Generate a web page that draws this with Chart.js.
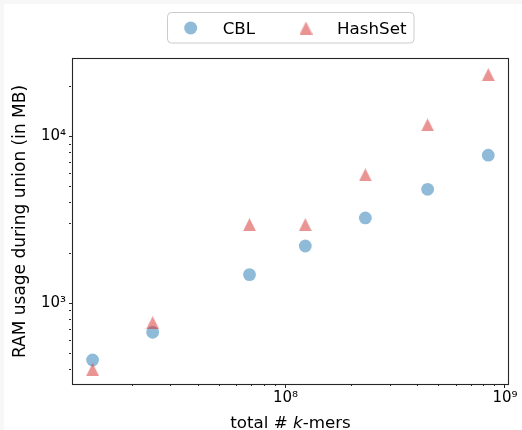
<!DOCTYPE html>
<html><head><meta charset="utf-8">
<script src="https://cdn.jsdelivr.net/npm/chart.js@4/dist/chart.umd.min.js"></script>
<style>
html,body{margin:0;padding:0;background:#fff;}
#wrap{width:522px;height:430px;position:relative;}
canvas{display:block;}
</style></head><body>
<div id="wrap"><canvas id="c" width="522" height="430"></canvas></div>
<script>
// ---- data ----
const seriesNames = ['CBL', 'HashSet'];
const totalKmers = [1.32e7, 2.48e7, 6.85e7, 1.23e8, 2.31e8, 4.44e8, 8.39e8];
const cblRam = [457, 670, 1486, 2207, 3251, 4829, 7733];
const hashSetRam = [400, 765, 2963, 2963, 5890, 11750, 23550];
const xMajorTicks = [1e8, 1e9];
const xTickLabels = ['10⁸', '10⁹'];
const yMajorTicks = [1e3, 1e4];
const yTickLabels = ['10³', '10⁴'];
const xRange = [1.075e7, 1.032e9];
const yRange = [328, 29200];
const xTitleParts = ['total # ', 'k', '-mers'];
const yTitle = 'RAM usage during union (in MB)';

const FONT = '"DejaVu Sans", "Liberation Sans", sans-serif';
const BLUE = 'rgba(31,119,180,0.5)';
const RED = 'rgba(214,39,40,0.5)';

function makeTriangle(size, color) {
  const c = document.createElement('canvas');
  c.width = size; c.height = size;
  const g = c.getContext('2d');
  g.fillStyle = color;
  g.beginPath();
  g.moveTo(size / 2, 0);
  g.lineTo(size, size);
  g.lineTo(0, size);
  g.closePath();
  g.fill();
  return c;
}
const triImg = makeTriangle(13, RED);

function logTicks(min, max) {
  const out = [];
  const e0 = Math.floor(Math.log10(min)), e1 = Math.ceil(Math.log10(max));
  for (let e = e0; e <= e1; e++) {
    for (let k = 1; k <= 9; k++) {
      const v = k * Math.pow(10, e);
      if (v >= min && v <= max) out.push({ value: v, major: k === 1 });
    }
  }
  return out;
}
function labelFor(v, majors, labels) {
  const i = majors.indexOf(v);
  return i >= 0 ? labels[i] : '';
}
const tickDash = ctx => (ctx.tick && ctx.tick.major) ? [] : [2, 20];

const bgPlugin = {
  id: 'bg',
  beforeDraw(chart) {
    const ctx = chart.ctx;
    ctx.save();
    ctx.fillStyle = '#f7f7f7';
    ctx.fillRect(0, 0, chart.width, chart.height);
    ctx.fillStyle = '#ffffff';
    ctx.fillRect(4, 4, chart.width - 4, chart.height - 4);
    ctx.restore();
  }
};

const framePlugin = {
  id: 'frame',
  afterDraw(chart) {
    const ctx = chart.ctx, a = chart.chartArea;
    ctx.save();
    ctx.strokeStyle = '#262626';
    ctx.lineWidth = 1.1;
    ctx.strokeRect(a.left - 0.5, a.top - 0.5, a.right - a.left + 1, a.bottom - a.top + 1);

    // x axis title with italic k
    const y = 428;
    const fN = '16.7px ' + FONT, fI = 'italic 16.7px ' + FONT;
    ctx.fillStyle = '#000';
    ctx.textBaseline = 'alphabetic';
    ctx.textAlign = 'left';
    const fonts = [fN, fI, fN];
    let widths = xTitleParts.map((t, i) => { ctx.font = fonts[i]; return ctx.measureText(t).width; });
    let x = (a.left + a.right) / 2 - widths.reduce((s, w) => s + w, 0) / 2;
    xTitleParts.forEach((t, i) => { ctx.font = fonts[i]; ctx.fillText(t, x, y); x += widths[i]; });

    // legend
    const lx = 167.5, ly = 12.5, lw = 246.5, lh = 30.5;
    ctx.beginPath();
    ctx.roundRect(lx, ly, lw, lh, 4);
    ctx.fillStyle = 'rgba(255,255,255,0.8)';
    ctx.fill();
    ctx.strokeStyle = '#cccccc';
    ctx.lineWidth = 1;
    ctx.stroke();
    ctx.fillStyle = BLUE;
    ctx.beginPath();
    ctx.arc(190.7, 28, 6.5, 0, Math.PI * 2);
    ctx.fill();
    ctx.drawImage(triImg, 306 - 6.5, 28 - 6.5);
    ctx.fillStyle = '#000';
    ctx.font = '16.7px ' + FONT;
    ctx.fillText(seriesNames[0], 222.7, 33.5);
    ctx.fillText(seriesNames[1], 337, 33.5);
    ctx.restore();
  }
};

new Chart(document.getElementById('c'), {
  type: 'scatter',
  data: {
    datasets: [
      {
        label: seriesNames[0],
        data: totalKmers.map((x, i) => ({ x, y: cblRam[i] })),
        backgroundColor: BLUE,
        borderWidth: 0,
        pointStyle: 'circle',
        pointRadius: 6.4,
        pointHoverRadius: 6.4,
        order: 1
      },
      {
        label: seriesNames[1],
        data: totalKmers.map((x, i) => ({ x, y: hashSetRam[i] })),
        backgroundColor: RED,
        borderWidth: 0,
        pointStyle: triImg,
        pointRadius: 6.5,
        pointHoverRadius: 6.5,
        order: 0
      }
    ]
  },
  options: {
    responsive: false,
    animation: false,
    devicePixelRatio: 1,
    layout: { padding: { top: 59, right: 14, left: 0, bottom: 0 } },
    plugins: { legend: { display: false }, tooltip: { enabled: false } },
    scales: {
      x: {
        type: 'logarithmic',
        position: 'bottom',
        min: xRange[0], max: xRange[1],
        afterBuildTicks: s => { s.ticks = logTicks(xRange[0], xRange[1]); },
        afterFit: s => { s.height = 46; },
        ticks: {
          autoSkip: false, maxRotation: 0, minRotation: 0, padding: 1,
          color: '#000', font: { family: FONT, size: 15 },
          callback: v => labelFor(v, xMajorTicks, xTickLabels)
        },
        grid: {
          drawOnChartArea: false, drawTicks: true, tickLength: 4,
          tickColor: '#262626', tickWidth: 1, tickBorderDash: tickDash
        },
        border: { display: false },
        title: { display: false }
      },
      y: {
        type: 'logarithmic',
        position: 'left',
        min: yRange[0], max: yRange[1],
        afterBuildTicks: s => { s.ticks = logTicks(yRange[0], yRange[1]); },
        afterFit: s => { s.width = 73; },
        ticks: {
          autoSkip: false, padding: 3,
          color: '#000', font: { family: FONT, size: 15 },
          callback: v => labelFor(v, yMajorTicks, yTickLabels)
        },
        grid: {
          drawOnChartArea: false, drawTicks: true, tickLength: 4,
          tickColor: '#262626', tickWidth: 1, tickBorderDash: tickDash
        },
        border: { display: false },
        title: {
          display: true, text: yTitle, color: '#000',
          font: { family: FONT, size: 17 },
          padding: { top: 10, bottom: 0 }
        }
      }
    }
  },
  plugins: [bgPlugin, framePlugin]
});
</script>
</body></html>
